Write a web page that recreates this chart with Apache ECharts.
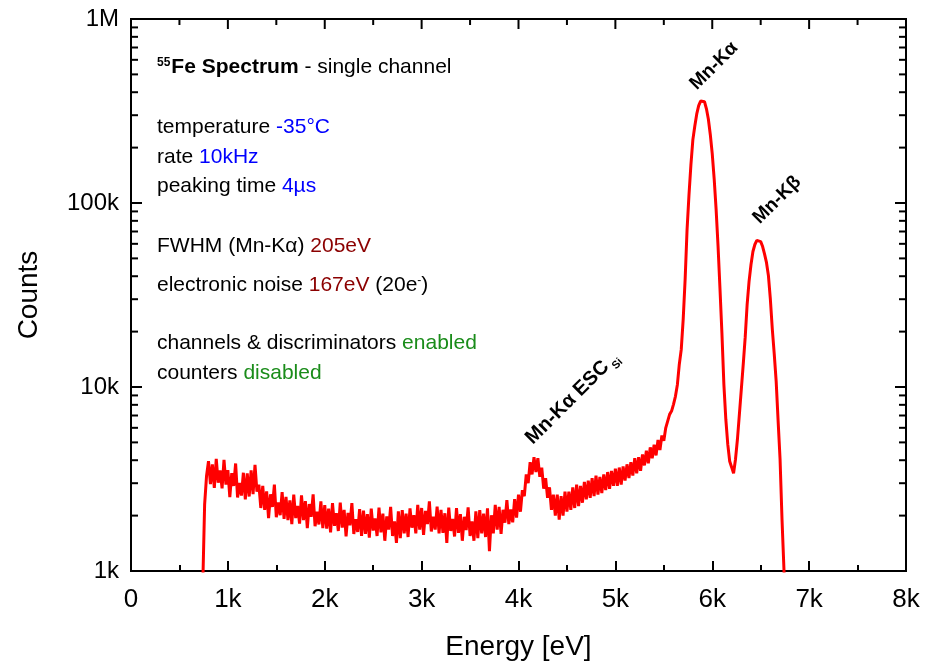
<!DOCTYPE html>
<html>
<head>
<meta charset="utf-8">
<script src="https://cdn.jsdelivr.net/npm/echarts@6/dist/echarts.min.js"></script>
<style>
  html, body { margin: 0; padding: 0; background: #fff; }
  #chart { width: 925px; height: 666px; }
</style>
</head>
<body>
<div id="chart"></div>
<script>
// channel calibration: first channel energy and channel width (eV)
var E_START = 740;
var E_STEP = 20;

// counts per channel (740 eV ... 6760 eV)
var counts = [
  800, 2300, 3300,
  3950, 2970, 3800, 2830, 4070,
  3020, 3520, 2810, 4020, 2950,
  3530, 2520, 3400, 2900, 3840,
  2510, 3010, 2570, 3420, 2450,
  3390, 2540, 3520, 2620, 3780,
  2700, 2950, 2200, 2900, 2150,
  2710, 1940, 2610, 2230, 2950,
  1960, 2360, 2010, 2680, 1920,
  2530, 1890, 2420, 1800, 2600,
  1940, 2260, 1810, 2580, 1890,
  2400, 1710, 2310, 1970, 2610,
  1750, 2100, 1790, 2390, 1710,
  2280, 1700, 2180, 1620, 2340,
  1760, 2060, 1650, 2350, 1720,
  2150, 1540, 2070, 1770, 2340,
  1590, 1910, 1630, 2170, 1550,
  2130, 1590, 2040, 1520, 2180,
  1660, 1930, 1550, 2210, 1620,
  2050, 1460, 1980, 1680, 2230,
  1550, 1860, 1420, 2110, 1510,
  2140, 1600, 2050, 1530, 2190,
  1720, 2010, 1600, 2290, 1680,
  2200, 1570, 2120, 1800, 2390,
  1640, 1970, 1680, 2240, 1600,
  2150, 1610, 2060, 1420, 2210,
  1650, 1920, 1540, 2200, 1610,
  2040, 1460, 1970, 1670, 2220,
  1550, 1860, 1460, 2110, 1510,
  2140, 1600, 2050, 1530, 2190,
  1280, 2010, 1600, 2290, 1680,
  2230, 1590, 2150, 1830, 2430,
  1800, 2160, 1840, 2460, 1950,
  2600, 2100, 2750, 2550, 3350,
  3000, 3900, 3350, 4150, 3450,
  4100, 3250, 3650, 2800, 3200,
  2500, 2850, 2150, 2600, 2000,
  2600, 1900, 2550, 2000, 2700,
  2100, 2700, 2150, 2850, 2200,
  2950, 2250, 2900, 2350, 3050,
  2450, 3100, 2500, 3200, 2550,
  3300, 2600, 3250, 2650, 3350,
  2750, 3450, 2800, 3500, 2900,
  3600, 2900, 3650, 2950, 3700,
  3100, 3800, 3200, 3900, 3300,
  4100, 3400, 4150, 3500, 4300,
  3750, 4500, 3850, 4700, 4100,
  4850, 4250, 5150, 4550, 5450,
  5100, 6000, 5900, 7100, 7400,
  8050, 8900, 10300, 13300, 16000,
  23300, 38400, 71700, 111000, 162000,
  221000, 262000, 305000, 338000, 358000,
  364000, 355000, 325000, 285000, 235000,
  185000, 135000, 92000, 58000, 34000,
  19500, 10340, 6680, 4890, 3950,
  3667, 3400, 4050, 5200, 7100,
  9700, 13300, 18600, 28000, 37500,
  46300, 54500, 59500, 62600, 63300,
  61700, 58000, 52700, 47400, 40200,
  29900, 20600, 15100, 10700, 6520,
  4050, 1915, 1025, 550
];

// axis ticks
var xMajor = [0, 1000, 2000, 3000, 4000, 5000, 6000, 7000, 8000];
var xMinor = [500, 1500, 2500, 3500, 4500, 5500, 6500, 7500];
var yMajor = [1000, 10000, 100000, 1000000];
var yMinor = [2000, 3000, 4000, 5000, 6000, 7000, 8000, 9000,
              20000, 30000, 40000, 50000, 60000, 70000, 80000, 90000,
              200000, 300000, 400000, 500000, 600000, 700000, 800000, 900000];
var yLabels = { 1000: '1k', 10000: '10k', 100000: '100k', 1000000: '1M' };

var X_MIN = xMajor[0], X_MAX = xMajor[xMajor.length - 1];
var Y_MIN = yMajor[0], Y_MAX = yMajor[yMajor.length - 1];

var spectrum = [];
for (var i = 0; i < counts.length; i++) {
    spectrum.push([E_START + i * E_STEP, counts[i]]);
}

// tick items: [x, y, length]
var yTickData = yMajor.map(function (v) { return [X_MIN, v, 11]; })
    .concat(yMinor.map(function (v) { return [X_MIN, v, 7]; }));
var topTickData = xMajor.map(function (v) { return [v, Y_MAX, 10]; })
    .concat(xMinor.map(function (v) { return [v, Y_MAX, 6]; }));

var FONT = '"Liberation Sans", Arial, sans-serif';
var TICK = { stroke: '#000', lineWidth: 2 };

var chart = echarts.init(document.getElementById('chart'));

// one line of the info block, with a coloured value part
function infoLine(y, text, color) {
    return {
        type: 'text', x: 157, y: y,
        style: {
            text: text, font: '21px ' + FONT, fill: '#000', verticalAlign: 'middle',
            rich: {
                c: { fontSize: 21, fontFamily: FONT, fill: color },
                sup: { fontSize: 12, fontFamily: FONT, fill: '#000', verticalAlign: 'top', padding: [0, 0, 8, 0] }
            }
        }
    };
}

var option = {
    animation: false,
    backgroundColor: '#fff',
    grid: {
        left: 131, right: 19, top: 19, bottom: 94, containLabel: false,
        show: true, borderColor: '#000', borderWidth: 2, backgroundColor: 'transparent'
    },
    xAxis: {
        type: 'value',
        min: X_MIN,
        max: X_MAX,
        interval: 1000,
        name: 'Energy [eV]',
        nameLocation: 'middle',
        nameGap: 62,
        nameTextStyle: { fontFamily: FONT, fontSize: 28, color: '#000' },
        axisLine: { show: true, lineStyle: { color: '#000', width: 2 } },
        axisTick: { inside: true, length: 10, lineStyle: { color: '#000', width: 2 } },
        minorTick: { show: true, splitNumber: 2, length: 6, lineStyle: { color: '#000', width: 2 } },
        splitLine: { show: false },
        axisLabel: {
            margin: 16, fontFamily: FONT, fontSize: 26, color: '#000',
            formatter: function (v) { return v === 0 ? '0' : (v / 1000) + 'k'; }
        }
    },
    yAxis: {
        type: 'log',
        logBase: 10,
        min: Y_MIN,
        max: Y_MAX,
        name: 'Counts',
        nameLocation: 'middle',
        nameGap: 88,
        nameTextStyle: { fontFamily: FONT, fontSize: 28, color: '#000' },
        axisLine: { show: true, lineStyle: { color: '#000', width: 2 } },
        axisTick: { show: false },
        splitLine: { show: false },
        axisLabel: {
            margin: 12, fontFamily: FONT, fontSize: 24, color: '#000',
            formatter: function (v) { return yLabels[Math.round(v)] || ''; }
        }
    },
    series: [{
        type: 'line',
        data: spectrum,
        symbol: 'none',
        clip: true,
        lineStyle: { color: '#ff0000', width: 3 },
        z: 3
    }, {
        // y ticks (major + minor) on left and right frame
        type: 'custom',
        data: yTickData,
        encode: { x: 0, y: 1 },
        silent: true,
        clip: false,
        renderItem: function (params, api) {
            var len = api.value(2);
            var l = api.coord([X_MIN, api.value(1)]);
            var r = api.coord([X_MAX, api.value(1)]);
            return {
                type: 'group',
                children: [
                    { type: 'line', shape: { x1: l[0], y1: l[1], x2: l[0] + len, y2: l[1] }, style: TICK },
                    { type: 'line', shape: { x1: r[0] - len, y1: r[1], x2: r[0], y2: r[1] }, style: TICK }
                ]
            };
        },
        z: 4
    }, {
        // x ticks on top frame
        type: 'custom',
        data: topTickData,
        encode: { x: 0, y: 1 },
        silent: true,
        clip: false,
        renderItem: function (params, api) {
            var p = api.coord([api.value(0), Y_MAX]);
            return { type: 'line', shape: { x1: p[0], y1: p[1], x2: p[0], y2: p[1] + api.value(2) }, style: TICK };
        },
        z: 4
    }],
    graphic: [
        {
            type: 'text', x: 157, y: 67,
            style: {
                text: '{sup|55}{b|Fe Spectrum} - single channel',
                font: '21px ' + FONT, fill: '#000', verticalAlign: 'middle',
                rich: {
                    sup: { fontSize: 12, fontWeight: 'bold', fontFamily: FONT, fill: '#000', verticalAlign: 'top', padding: [0, 1, 8, 0] },
                    b: { fontSize: 21, fontWeight: 'bold', fontFamily: FONT, fill: '#000' }
                }
            }
        },
        infoLine(127, 'temperature {c|-35°C}', '#0000ff'),
        infoLine(157, 'rate {c|10kHz}', '#0000ff'),
        infoLine(186, 'peaking time {c|4µs}', '#0000ff'),
        infoLine(246, 'FWHM (Mn-Kα) {c|205eV}', '#8b0000'),
        infoLine(285, 'electronic noise {c|167eV} (20e{sup|-})', '#8b0000'),
        infoLine(343, 'channels & discriminators {c|enabled}', '#1a8c1a'),
        infoLine(373, 'counters {c|disabled}', '#1a8c1a'),
        {
            type: 'text', x: 714, y: 66, rotation: Math.PI / 4,
            style: { text: 'Mn-Kα', font: 'bold 19px ' + FONT, fill: '#000', align: 'center', verticalAlign: 'middle' }
        },
        {
            type: 'text', x: 777, y: 200, rotation: Math.PI / 4,
            style: { text: 'Mn-Kβ', font: 'bold 19px ' + FONT, fill: '#000', align: 'center', verticalAlign: 'middle' }
        },
        {
            type: 'group', x: 606, y: 364, rotation: Math.PI / 4,
            children: [
                { type: 'text', x: 0, y: 0, style: { text: 'Mn-Kα ESC', font: 'bold 20px ' + FONT, fill: '#000', align: 'right', verticalAlign: 'middle' } },
                { type: 'text', x: 3, y: 8, style: { text: 'Si', font: 'bold 11px ' + FONT, fill: '#000', align: 'left', verticalAlign: 'middle' } }
            ]
        }
    ]
};

chart.setOption(option);
</script>
</body>
</html>
